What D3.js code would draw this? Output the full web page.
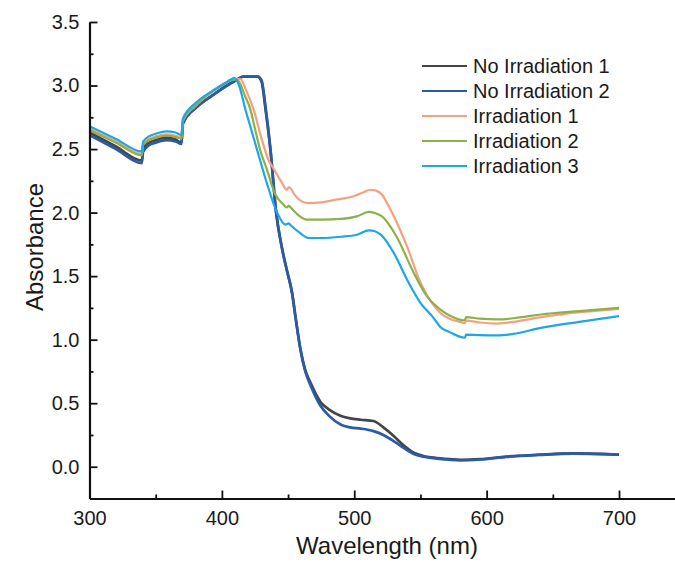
<!DOCTYPE html>
<html><head><meta charset="utf-8">
<script src="https://cdn.jsdelivr.net/npm/d3@7"></script>
<style>body{margin:0;background:#fff}svg{display:block}text{font-family:Arial,"Liberation Sans",sans-serif;fill:#1a1a1a}</style>
</head><body>
<svg id="c" width="675" height="569"></svg>
<script>
const seriesNames = ["No Irradiation 1","No Irradiation 2","Irradiation 1","Irradiation 2","Irradiation 3"];
const seriesColors = ["#454545","#2a5ba8","#f5a080","#8cb04a","#1ea6e6"];
const xTicks = [300,400,500,600,700];
const yTicks = [0.0,0.5,1.0,1.5,2.0,2.5,3.0,3.5];

const noIrr1 = [[300,2.63],[320,2.52],[339.5,2.41],[340.5,2.50],[345,2.55],[350,2.57],[358,2.59],[365,2.575],[369.5,2.55],[370.5,2.70],[381,2.83],[394,2.93],[404,3.005],[412,3.05],[416,3.07],[427,3.07],[430,3.03],[433,2.81],[436.7,2.49],[441,2.0],[445.6,1.71],[449,1.55],[453,1.37],[456,1.15],[459.4,0.92],[463,0.76],[467,0.66],[474.5,0.51],[481,0.45],[490,0.40],[497,0.38],[505,0.37],[514.5,0.36],[522,0.31],[530,0.24],[537,0.17],[545,0.11],[552,0.085],[560,0.072],[572,0.06],[580,0.055],[595,0.06],[615,0.08],[640,0.095],[665,0.105],[690,0.10],[700,0.095]];
const noIrr2 = [[300,2.61],[320,2.50],[339.5,2.39],[340.5,2.48],[345,2.53],[350,2.55],[358,2.57],[365,2.56],[369.5,2.54],[370.5,2.70],[381,2.83],[394,2.93],[404,3.00],[412,3.05],[416,3.07],[427,3.07],[430,3.04],[433,2.83],[436.7,2.50],[441,2.0],[445.6,1.71],[449,1.55],[453,1.37],[456,1.15],[459.4,0.92],[463,0.75],[467,0.64],[474.5,0.48],[481,0.40],[490,0.33],[497,0.31],[505,0.30],[514.5,0.28],[522,0.25],[530,0.20],[537,0.15],[545,0.10],[552,0.08],[560,0.068],[572,0.055],[580,0.05],[595,0.057],[615,0.078],[640,0.093],[665,0.103],[690,0.10],[700,0.095]];
const irr1 = [[300,2.66],[320,2.56],[339.5,2.46],[340.5,2.54],[345,2.58],[350,2.60],[358,2.615],[365,2.605],[369.5,2.59],[370.5,2.72],[380,2.84],[390,2.93],[400,3.00],[410,3.05],[414,3.05],[418,2.97],[424,2.81],[430,2.58],[435,2.42],[440,2.33],[445,2.24],[449,2.18],[450.5,2.20],[452,2.19],[455,2.14],[460,2.09],[465,2.075],[475,2.08],[485,2.10],[500,2.13],[507,2.16],[512,2.18],[516,2.175],[521,2.14],[525,2.07],[530,1.97],[540,1.73],[550,1.45],[555,1.35],[560,1.27],[565,1.21],[572,1.165],[580,1.14],[583.5,1.13],[584.5,1.15],[595,1.135],[608,1.127],[620,1.14],[640,1.175],[660,1.205],[680,1.225],[700,1.243]];
const irr2 = [[300,2.65],[320,2.55],[339.5,2.45],[340.5,2.53],[345,2.57],[350,2.59],[358,2.605],[365,2.595],[369.5,2.58],[370.5,2.72],[380,2.84],[390,2.935],[400,3.00],[410,3.05],[413,3.03],[417,2.93],[421.6,2.81],[425,2.66],[429,2.49],[434,2.34],[440,2.15],[446.8,2.06],[449,2.04],[450.5,2.055],[452,2.04],[459,1.97],[464,1.945],[475,1.945],[490,1.95],[502,1.97],[511,2.005],[516,1.995],[521,1.97],[532,1.81],[545,1.525],[555,1.34],[565,1.237],[573,1.185],[583.5,1.153],[584.5,1.177],[595,1.165],[608,1.159],[625,1.175],[641,1.198],[670,1.225],[700,1.25]];
const irr3 = [[300,2.68],[320,2.58],[339.5,2.48],[340.5,2.56],[345,2.60],[350,2.62],[358,2.64],[365,2.63],[369.5,2.61],[370.5,2.74],[381,2.87],[394,2.965],[404,3.03],[409.5,3.06],[413,3.0],[417.8,2.81],[422,2.66],[426.7,2.49],[434,2.23],[441.7,2.0],[448,1.905],[450.5,1.915],[452,1.90],[459,1.84],[465.7,1.80],[475,1.80],[490,1.81],[502,1.826],[511,1.86],[515,1.855],[520,1.826],[530,1.68],[540,1.47],[550,1.29],[560,1.17],[565,1.10],[572,1.06],[583.5,1.015],[584.5,1.04],[595,1.035],[608,1.033],[620,1.045],[641,1.093],[670,1.14],[700,1.185]];
const allSeries = [noIrr1, noIrr2, irr1, irr2, irr3];

const svg = d3.select("#c");
const x = d3.scaleLinear().domain([300,750]).range([89.5, 89.5+450*1.3238]);
const y = d3.scaleLinear().domain([-0.25,3.5]).range([498.5, 22]);

const line = d3.line().x(d=>x(d[0])).y(d=>y(d[1])).curve(d3.curveMonotoneX);
const widths = [2.7,2.7,2.2,2.2,2.2];
allSeries.forEach((s,i)=>{
  svg.append("path").datum(s).attr("d",line).attr("fill","none")
    .attr("stroke",seriesColors[i]).attr("stroke-width",widths[i]).attr("stroke-linejoin","round");
});

// minor ticks
const xMinor = d3.range(350,751,100);
const yMinor = d3.range(-0.25,3.5,0.5);
svg.append("g").attr("transform","translate(0,498.5)")
  .call(d3.axisBottom(x).tickValues(xMinor).tickSize(-4).tickFormat(""))
  .call(g=>g.select(".domain").remove())
  .call(g=>g.selectAll("line").attr("stroke","#111").attr("stroke-width",1.8));
svg.append("g").attr("transform","translate(89.5,0)")
  .call(d3.axisLeft(y).tickValues(yMinor.filter(v=>v>-0.2)).tickSize(-4).tickFormat(""))
  .call(g=>g.select(".domain").remove())
  .call(g=>g.selectAll("line").attr("stroke","#111").attr("stroke-width",1.8));

const xa = svg.append("g").attr("transform","translate(0,498.5)")
  .call(d3.axisBottom(x).tickValues(xTicks).tickSize(-8).tickPadding(12).tickSizeOuter(0).tickFormat(d3.format("d")));
const ya = svg.append("g").attr("transform","translate(89.5,0)")
  .call(d3.axisLeft(y).tickValues(yTicks).tickSize(-8).tickPadding(10).tickSizeOuter(0).tickFormat(d3.format(".1f")));
[xa,ya].forEach(g=>{
  g.select(".domain").attr("stroke","#111").attr("stroke-width",2.2);
  g.selectAll(".tick line").attr("stroke","#111").attr("stroke-width",1.8);
  g.selectAll(".tick text").attr("font-size",20).attr("fill","#1a1a1a").style("font-family","Arial, 'Liberation Sans', sans-serif");
});

svg.append("text").attr("x",387).attr("y",554).attr("text-anchor","middle").attr("font-size",24).text("Wavelength (nm)");
svg.append("text").attr("transform","translate(43,247) rotate(-90)").attr("text-anchor","middle").attr("font-size",24).text("Absorbance");

const lg = svg.append("g");
seriesNames.forEach((n,i)=>{
  const yy = 66 + i*25;
  lg.append("line").attr("x1",422).attr("x2",467).attr("y1",yy).attr("y2",yy).attr("stroke",seriesColors[i]).attr("stroke-width",2.2);
  lg.append("text").attr("x",473).attr("y",yy).attr("dy","0.36em").attr("font-size",20).text(n);
});
</script>
</body></html>
